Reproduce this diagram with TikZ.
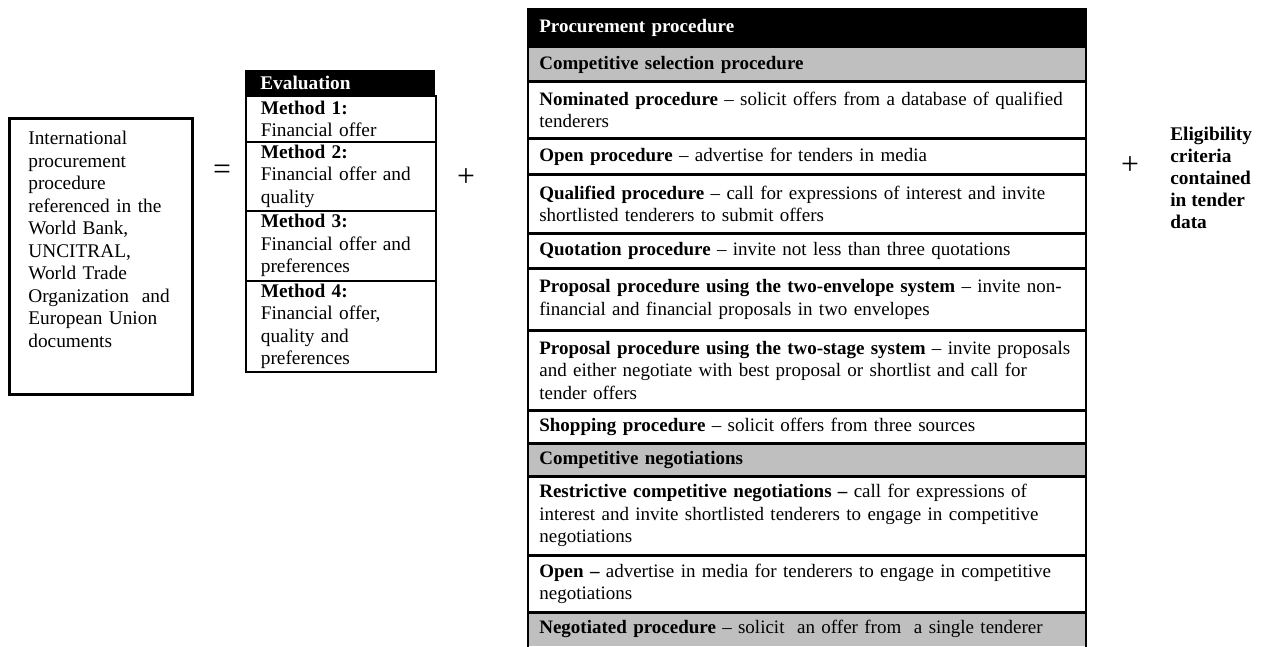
\documentclass[tikz,border=0pt]{standalone}
\usepackage{fontspec}
\setmainfont{Liberation Serif}
\usetikzlibrary{positioning}

\newlength{\pxu}
\setlength{\pxu}{0.6pt}

\begin{document}
\begin{tikzpicture}
  [x=0.6pt,y=-0.6pt,
  every node/.style={font=\fontsize{11.6}{13.5}\selectfont},
  srcbox/.style={draw=black,line width=1.5pt,anchor=north west,minimum width=183\pxu,minimum height=276\pxu,inner sep=0pt},
  srctext/.style={anchor=north west,inner sep=0pt,text width=160\pxu,align=left},
  evalhead/.style={anchor=north west,fill=black,text=white,font=\fontsize{11.6}{13.5}\selectfont\bfseries,inner xsep=15\pxu,inner ysep=0pt,text width=160\pxu,minimum height=25\pxu,align=left},
  evalcell/.style={anchor=north west,draw=black,line width=1pt,inner xsep=15\pxu,inner ysep=0pt,text width=160\pxu,align=left},
  prow/.style={anchor=north west,inner xsep=11\pxu,inner ysep=0pt,text width=535\pxu,align=left,
    font=\fontsize{11.4}{13.5}\selectfont,
    execute at begin node={\rightskip=0pt plus 1fil minus 30\pxu}},
  grayrow/.style={prow,fill=black!25,font=\fontsize{11.4}{13.5}\selectfont\bfseries},
  headrow/.style={prow,fill=black,text=white,font=\fontsize{11.4}{13.5}\selectfont\bfseries},
  rule/.style={line width=2pt},
  frame/.style={line width=1.4pt},
  op/.style={font=\fontsize{19}{20}\selectfont},
  elig/.style={anchor=north west,inner sep=0pt,align=left,font=\fontsize{11.6}{13.2}\selectfont\bfseries}]
  \useasboundingbox (0,0) rectangle (1272,646);

  \node[srcbox] (src) at (8,117) {};
  \node[srctext] (srctxt) at (28,131) {International\\procurement\\procedure\\referenced in the\\World Bank,\\UNCITRAL,\\World Trade\\Organization\ \ and\\European Union\\documents};

  \node[op] (eq) at (222,172) {=};

  \node[evalhead] (ehead) at (245,70) {Evaluation};
  \node[evalcell,minimum height=46\pxu] (m1) at (245,95) {\textbf{Method 1:}\\Financial offer};
  \node[evalcell,minimum height=69\pxu] (m2) at (245,141) {\textbf{Method 2:}\\Financial offer and\\quality};
  \node[evalcell,minimum height=70\pxu] (m3) at (245,210) {\textbf{Method 3:}\\Financial offer and\\preferences};
  \node[evalcell,minimum height=91\pxu] (m4) at (245,280) {\textbf{Method 4:}\\Financial offer,\\quality and\\preferences};

  \node[op] (plus1) at (466,178) {+};

  \node[headrow,minimum height=40\pxu] (head) at (528,8) {Procurement procedure};
  \node[grayrow,minimum height=33\pxu] (cs) at (528,48) {Competitive selection procedure};
  \node[prow,minimum height=57\pxu] (nom) at (528,81) {\textbf{Nominated procedure} -- solicit offers from a database of qualified\\tenderers};
  \node[prow,minimum height=36\pxu] (opn) at (528,138) {\textbf{Open procedure} -- advertise for tenders in media};
  \node[prow,minimum height=59\pxu] (qual) at (528,174) {\textbf{Qualified procedure} -- call for expressions of interest and invite\\shortlisted tenderers to submit offers};
  \node[prow,minimum height=35\pxu] (quot) at (528,233) {\textbf{Quotation procedure} -- invite not less than three quotations};
  \node[prow,minimum height=62\pxu] (env) at (528,268) {\textbf{Proposal procedure using the two-envelope system} -- invite non-\\financial and financial proposals in two envelopes};
  \node[prow,minimum height=80\pxu] (stage) at (528,330) {\textbf{Proposal procedure using the two-stage system} -- invite proposals\\and either negotiate with best proposal or shortlist and call for\\tender offers};
  \node[prow,minimum height=33\pxu] (shop) at (528,410) {\textbf{Shopping procedure} -- solicit offers from three sources};
  \node[grayrow,minimum height=33\pxu] (cn) at (528,443) {Competitive negotiations};
  \node[prow,minimum height=79\pxu] (restr) at (528,476) {\textbf{Restrictive competitive negotiations --} call for expressions of\\interest and invite shortlisted tenderers to engage in competitive\\negotiations};
  \node[prow,minimum height=57\pxu] (open2) at (528,555) {\textbf{Open --} advertise in media for tenderers to engage in competitive\\negotiations};
  \node[prow,fill=black!25,minimum height=34\pxu] (negot) at (528,612) {\textbf{Negotiated procedure} -- solicit\ \ an offer from\ \ a single tenderer};

  \foreach \r in {cs,nom,opn,qual,quot,env,stage,shop,cn,restr,open2}
    \draw[rule] (\r.south west) -- (\r.south east);
  \draw[frame] (head.north west) -- (negot.south west);
  \draw[frame] (head.north east) -- (negot.south east);

  \node[op] (plus2) at (1130,166) {+};
  \node[elig] (elig) at (1170,127) {Eligibility\\criteria\\contained\\in tender\\data};
\end{tikzpicture}
\end{document}
